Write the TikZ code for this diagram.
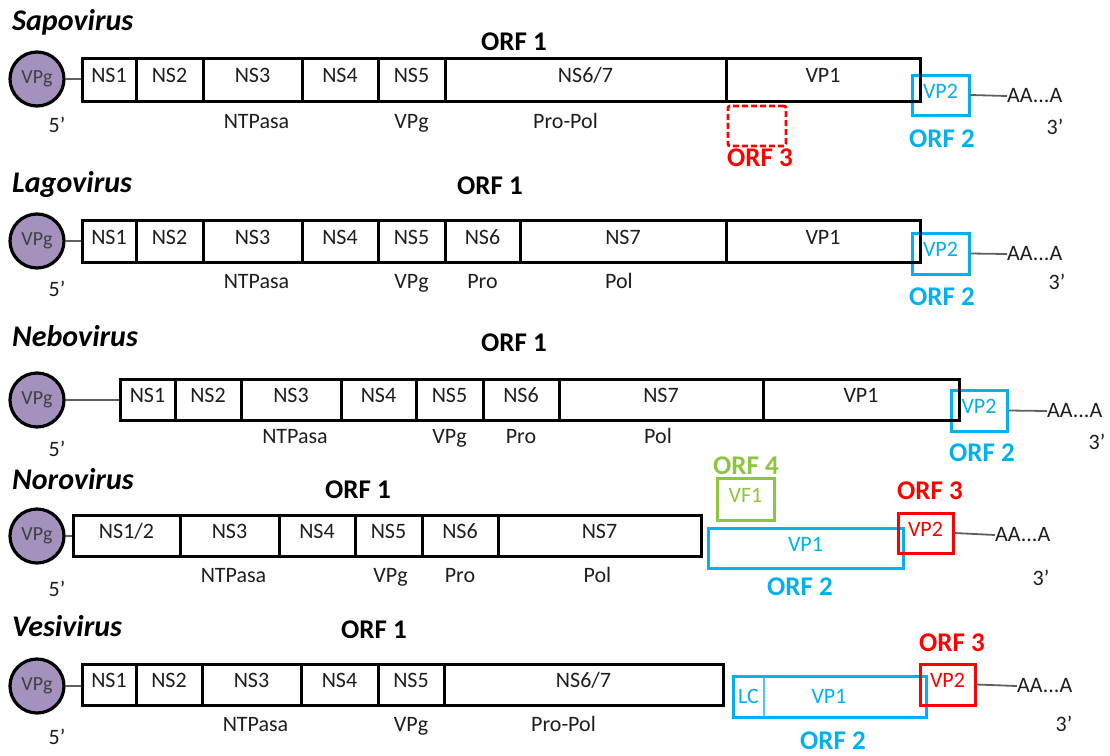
\documentclass[tikz,border=0pt]{standalone}
\usepackage{fontspec}
\setmainfont{Carlito}
\definecolor{orfblue}{HTML}{00B0F0}
\definecolor{orfred}{HTML}{FF0000}
\definecolor{orfgreen}{HTML}{8CC63F}
\definecolor{vpgfill}{HTML}{A391BE}
\definecolor{linkgrey}{HTML}{606060}
\definecolor{ink}{HTML}{1E1E1E}
\tikzset{
  segbox/.style={draw=black, line width=3pt, inner sep=0pt, text=ink,
    font=\fontsize{22}{26}\selectfont, text height=1.35ex, text depth=0pt},
  bluebox/.style={draw=orfblue, line width=3pt, inner sep=0pt, text=orfblue,
    font=\fontsize{22}{26}\selectfont, text height=1.35ex, text depth=0pt},
  redbox/.style={bluebox, draw=orfred, text=orfred},
  greenbox/.style={bluebox, draw=orfgreen, text=orfgreen},
  dashbox/.style={draw=orfred, line width=2.8pt, dash pattern=on 6pt off 3pt,
    rounded corners=2pt, inner sep=0pt},
  vpgnode/.style={circle, draw=black, line width=3.2pt, fill=vpgfill, inner sep=0pt,
    minimum size=54pt, text=ink!85, font=\fontsize{20}{22}\selectfont},
  sublbl/.style={anchor=base, inner sep=0pt, text=ink, font=\fontsize{22}{26}\selectfont},
  plain/.style={inner sep=0pt, text=ink, font=\fontsize{22}{26}\selectfont},
  title/.style={anchor=base west, inner sep=0pt, text=black, font=\fontsize{30}{34}\selectfont\bfseries\itshape},
  orflbl/.style={inner sep=0pt, font=\fontsize{27}{30}\selectfont\bfseries},
  link/.style={draw=linkgrey, line width=1.8pt},
}
% segment: name, x-left, x-right, y-top, y-bottom, style, text
\newcommand\seg[7]{\node[#6, minimum width={(#3)-(#2)}, minimum height={(#5)-(#4)}]
  (#1) at ({((#2)+(#3))/2},{((#4)+(#5))/2}) {#7};}
\begin{document}
\begin{tikzpicture}[x=1pt, y=-1pt]
\useasboundingbox (0,0) rectangle (1110,755);
\fill[white] (0,0) rectangle (1110,755);

%% ---------------- Sapovirus ----------------
\node[title] (Atitle) at (12,30) {Sapovirus};
\node[orflbl] (Aorf1) at (514,42) {ORF 1};
\node[vpgnode] (A0) at (37,79) {VPg};
\seg{Av2}{912}{969}{75}{115}{bluebox}{VP2}
\seg{A1}{82}{136}{58}{101}{segbox}{NS1}
\seg{A2}{136}{203}{58}{101}{segbox}{NS2}
\seg{A3}{203}{302}{58}{101}{segbox}{NS3}
\seg{A4}{302}{378}{58}{101}{segbox}{NS4}
\seg{A5}{378}{445}{58}{101}{segbox}{NS5}
\seg{A6}{445}{726}{58}{101}{segbox}{NS6/7}
\seg{A7}{726}{920}{58}{101}{segbox}{VP1}
\seg{Ao3}{728}{786}{106}{146}{dashbox}{}
\draw[link] (A0.east) -- (A0.east -| A1.west);
\node[sublbl] (A3s) at ([xshift=4pt,yshift=-26pt]A3.south) {NTPasa};
\node[sublbl] (A5s) at ([yshift=-26pt]A5.south) {VPg};
\node[sublbl] (A6s) at ([xshift=-20pt,yshift=-26pt]A6.south) {Pro-Pol};
\node[plain] (A5p) at (57,125) {5’};
\node[plain, anchor=west] (Apa) at (1007,96) {AA...A};
\draw[link] (Av2.east) -- (Apa.west);
\node[plain] (A3p) at (1055,127) {3’};
\node[orflbl, text=orfblue] (Aorf2) at (942,139) {ORF 2};
\node[orflbl, text=orfred] (Aorf3) at (760,158) {ORF 3};

%% ---------------- Lagovirus ----------------
\node[title] (Btitle) at (12,192) {Lagovirus};
\node[orflbl] (Borf1) at (490,186) {ORF 1};
\node[vpgnode] (B0) at (37,241) {VPg};
\seg{Bv2}{912}{969}{233}{274}{bluebox}{VP2}
\seg{B1}{82}{136}{220}{262}{segbox}{NS1}
\seg{B2}{136}{203}{220}{262}{segbox}{NS2}
\seg{B3}{203}{302}{220}{262}{segbox}{NS3}
\seg{B4}{302}{378}{220}{262}{segbox}{NS4}
\seg{B5}{378}{445}{220}{262}{segbox}{NS5}
\seg{B6}{445}{520}{220}{262}{segbox}{NS6}
\seg{B7}{520}{726}{220}{262}{segbox}{NS7}
\seg{B8}{726}{920}{220}{262}{segbox}{VP1}
\draw[link] (B0.east) -- (B0.east -| B1.west);
\node[sublbl] (B3s) at ([xshift=4pt,yshift=-25pt]B3.south) {NTPasa};
\node[sublbl] (B5s) at ([yshift=-25pt]B5.south) {VPg};
\node[sublbl] (B6s) at ([yshift=-25pt]B6.south) {Pro};
\node[sublbl] (B7s) at ([xshift=-4pt,yshift=-25pt]B7.south) {Pol};
\node[plain] (B5p) at (57,289) {5’};
\node[plain, anchor=west] (Bpa) at (1007,254) {AA...A};
\draw[link] (Bv2.east) -- (Bpa.west);
\node[plain] (B3p) at (1057,282) {3’};
\node[orflbl, text=orfblue] (Borf2) at (942,297) {ORF 2};

%% ---------------- Nebovirus ----------------
\node[title] (Ctitle) at (12,346) {Nebovirus};
\node[orflbl] (Corf1) at (514,343) {ORF 1};
\node[vpgnode] (C0) at (37,400) {VPg};
\seg{Cv2}{951}{1007}{390}{431}{bluebox}{VP2}
\seg{C1}{120}{175}{379}{420}{segbox}{NS1}
\seg{C2}{175}{241}{379}{420}{segbox}{NS2}
\seg{C3}{241}{341}{379}{420}{segbox}{NS3}
\seg{C4}{341}{416}{379}{420}{segbox}{NS4}
\seg{C5}{416}{483}{379}{420}{segbox}{NS5}
\seg{C6}{483}{559}{379}{420}{segbox}{NS6}
\seg{C7}{559}{763}{379}{420}{segbox}{NS7}
\seg{C8}{763}{959}{379}{420}{segbox}{VP1}
\draw[link] (C0.east) -- (C0.east -| C1.west);
\node[sublbl] (C3s) at ([xshift=4pt,yshift=-22pt]C3.south) {NTPasa};
\node[sublbl] (C5s) at ([yshift=-22pt]C5.south) {VPg};
\node[sublbl] (C6s) at ([yshift=-22pt]C6.south) {Pro};
\node[sublbl] (C7s) at ([xshift=-3pt,yshift=-22pt]C7.south) {Pol};
\node[plain] (C5p) at (57,449) {5’};
\node[plain, anchor=west] (Cpa) at (1047,411) {AA...A};
\draw[link] (Cv2.east) -- (Cpa.west);
\node[plain] (C3p) at (1097,442) {3’};
\node[orflbl, text=orfblue] (Corf2) at (982,453) {ORF 2};

%% ---------------- Norovirus ----------------
\node[title] (Dtitle) at (12,489) {Norovirus};
\node[orflbl] (Dorf1) at (358,490) {ORF 1};
\node[vpgnode] (D0) at (37,536) {VPg};
\seg{D1}{73}{180}{515}{556}{segbox}{NS1/2}
\seg{D2}{180}{279}{515}{556}{segbox}{NS3}
\seg{D3}{279}{355}{515}{556}{segbox}{NS4}
\seg{D4}{355}{422}{515}{556}{segbox}{NS5}
\seg{D5}{422}{498}{515}{556}{segbox}{NS6}
\seg{D6}{498}{701}{515}{556}{segbox}{NS7}
\seg{Dv1}{708}{903}{528}{568}{bluebox}{VP1}
\seg{Dvf}{717}{774}{478}{520}{greenbox}{VF1}
\seg{Dv2}{898}{953}{513}{553}{redbox}{VP2}
\draw[link] (D0.east) -- (D0.east -| D1.west);
\node[sublbl] (D2s) at ([xshift=4pt,yshift=-25pt]D2.south) {NTPasa};
\node[sublbl] (D4s) at ([xshift=2pt,yshift=-25pt]D4.south) {VPg};
\node[sublbl] (D5s) at ([yshift=-25pt]D5.south) {Pro};
\node[sublbl] (D6s) at ([xshift=-2pt,yshift=-25pt]D6.south) {Pol};
\node[plain] (D5p) at (57,589) {5’};
\node[plain, anchor=west] (Dpa) at (995,535) {AA...A};
\draw[link] (Dv2.east) -- (Dpa.west);
\node[plain] (D3p) at (1041,578) {3’};
\node[orflbl, text=orfgreen] (Dorf4) at (746,466) {ORF 4};
\node[orflbl, text=orfred] (Dorf3) at (930,491) {ORF 3};
\node[orflbl, text=orfblue] (Dorf2) at (800,587) {ORF 2};

%% ---------------- Vesivirus ----------------
\node[title] (Etitle) at (12,636) {Vesivirus};
\node[orflbl] (Eorf1) at (374,630) {ORF 1};
\node[vpgnode] (E0) at (37,686) {VPg};
\seg{E1}{82}{136}{664}{705}{segbox}{NS1}
\seg{E2}{136}{202}{664}{705}{segbox}{NS2}
\seg{E3}{202}{301}{664}{705}{segbox}{NS3}
\seg{E4}{301}{378}{664}{705}{segbox}{NS4}
\seg{E5}{378}{444}{664}{705}{segbox}{NS5}
\seg{E6}{444}{723}{664}{705}{segbox}{NS6/7}
\seg{Ev1}{733}{926}{676}{717}{bluebox}{}
\draw[orfblue!70, line width=1.2pt] (764,677.5) -- (764,715.5);
\node[plain, text=orfblue] (Elc) at (748.5,696.5) {LC};
\node[plain, text=orfblue] (Evp1) at (829,696.5) {VP1};
\seg{Ev2}{920}{975}{664}{705}{redbox}{VP2}
\draw[link] (E0.east) -- (E0.east -| E1.west);
\node[sublbl] (E3s) at ([xshift=4pt,yshift=-25pt]E3.south) {NTPasa};
\node[sublbl] (E5s) at ([yshift=-25pt]E5.south) {VPg};
\node[sublbl] (E6s) at ([xshift=-20pt,yshift=-25pt]E6.south) {Pro-Pol};
\node[plain] (E5p) at (57,737) {5’};
\node[plain, anchor=west] (Epa) at (1017,686) {AA...A};
\draw[link] (Ev2.east) -- (Epa.west);
\node[plain] (E3p) at (1064,724) {3’};
\node[orflbl, text=orfred] (Eorf3) at (952,643) {ORF 3};
\node[orflbl, text=orfblue] (Eorf2) at (833,741) {ORF 2};
\end{tikzpicture}
\end{document}
